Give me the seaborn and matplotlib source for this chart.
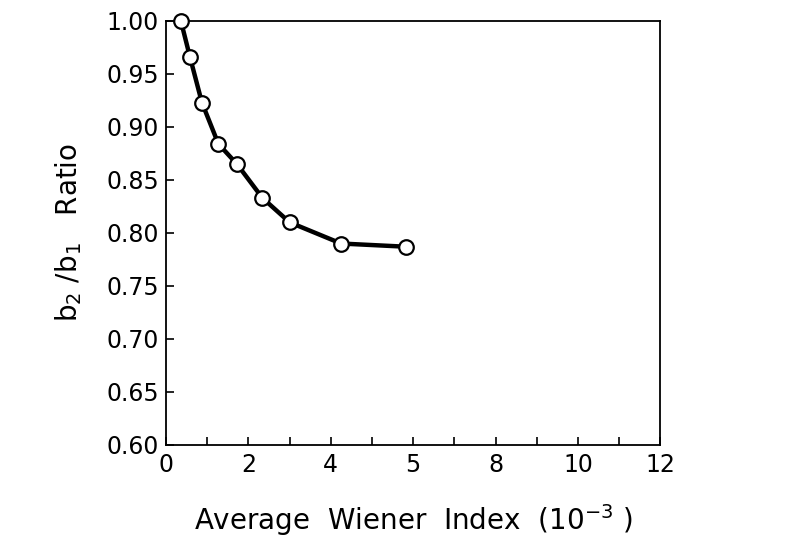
import numpy as np
import pandas as pd
import matplotlib
matplotlib.use("Agg")
import matplotlib.pyplot as plt
import seaborn as sns

# values
wiener = [0.36, 0.58, 0.87, 1.27, 1.72, 2.34, 3.00, 4.25, 5.82]
ratio = [1.000, 0.966, 0.923, 0.884, 0.865, 0.833, 0.810, 0.790, 0.787]
x_tick_pos = [0, 2, 4, 6, 8, 10, 12]
x_tick_labels = ["0", "2", "4", "5", "8", "10", "12"]
y_ticks = [0.60, 0.65, 0.70, 0.75, 0.80, 0.85, 0.90, 0.95, 1.00]

df = pd.DataFrame({"wiener": wiener, "ratio": ratio})

sns.set_theme(style="ticks")
plt.rcParams["font.family"] = ["DejaVu Sans"]

fig = plt.figure(figsize=(7.87, 5.5), dpi=100)
ax = fig.add_axes([0.211, 0.191, 0.628, 0.771])

sns.lineplot(data=df, x="wiener", y="ratio", color="black", linewidth=3.2, ax=ax, zorder=2)
sns.scatterplot(data=df, x="wiener", y="ratio", s=110, facecolor="white",
                edgecolor="black", linewidth=1.6, ax=ax, zorder=3, clip_on=False)

ax.set_xlim(0, 12)
ax.set_ylim(0.60, 1.00)
ax.set_xticks(x_tick_pos)
ax.set_xticklabels(x_tick_labels)
ax.set_xticks(range(0, 13), minor=True)
ax.set_yticks(y_ticks)
ax.set_yticklabels([f"{v:.2f}" for v in y_ticks])
ax.tick_params(axis="both", which="both", direction="in", length=6, width=1.2,
               labelsize=17, colors="black")
ax.tick_params(axis="x", which="both", pad=6)
ax.tick_params(axis="y", pad=5)
for side in ["top", "right", "left", "bottom"]:
    ax.spines[side].set_visible(True)
    ax.spines[side].set_linewidth(1.3)
    ax.spines[side].set_color("black")

ax.set_xlabel("Average  Wiener  Index  (10$^{-3}$ )", fontsize=20, labelpad=18, color="black")
ax.set_ylabel("b$_2$ /b$_1$   Ratio", fontsize=20, labelpad=16, color="black")

fig.savefig("out.png", dpi=100)
